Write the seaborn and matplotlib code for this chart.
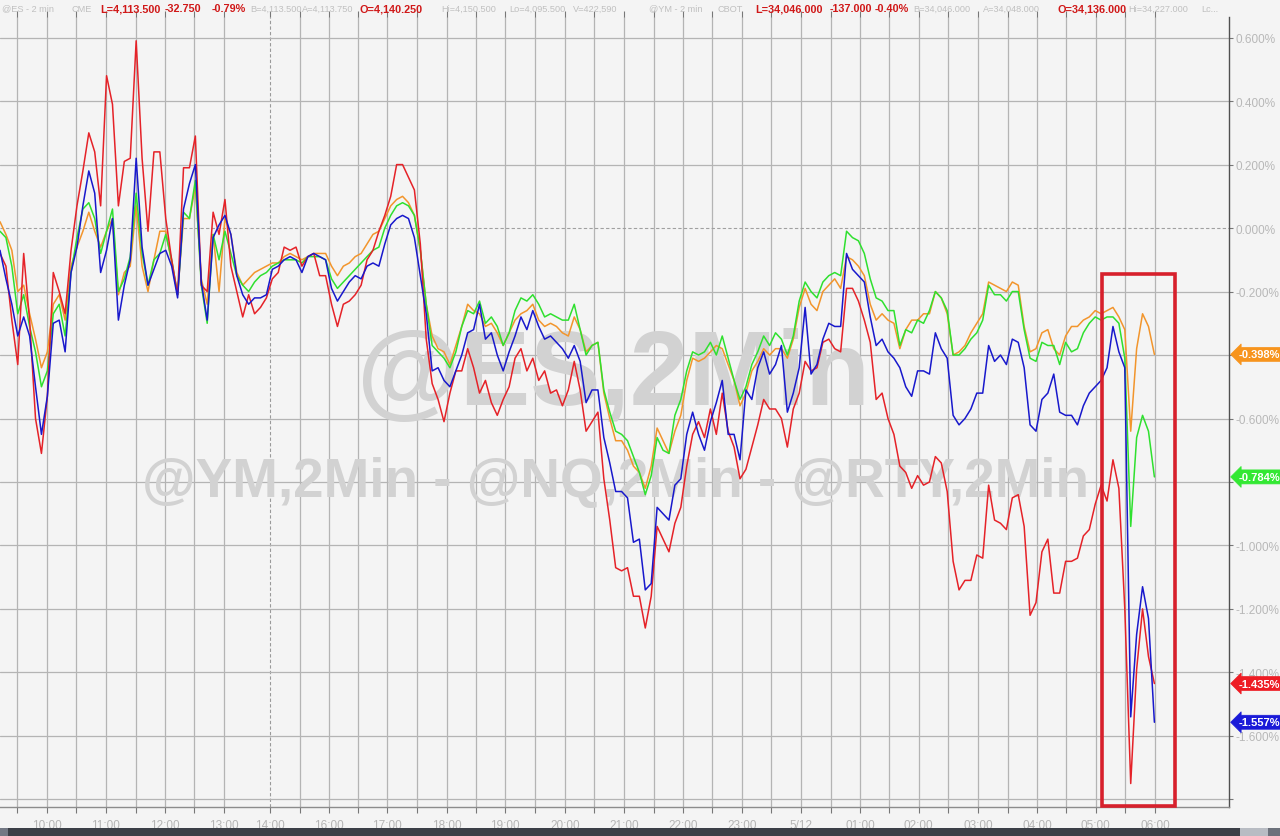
import numpy as np
import pandas as pd
import matplotlib
matplotlib.use("Agg")
import matplotlib.pyplot as plt
import matplotlib.transforms as mtransforms
from matplotlib.patches import Rectangle
import seaborn as sns

# % change of the four index futures, one value every 3 two-minute bars (6 min)
ym = [0.02, -0.02, -0.07, -0.20, -0.18, -0.27, -0.35, -0.44, -0.39, -0.24,
      -0.21, -0.29, -0.12, -0.06, -0.01, 0.05, -0.01, -0.06, -0.01, 0.03,
      -0.21, -0.14, -0.12, 0.07, -0.12, -0.20, -0.10, -0.01, -0.01, -0.11,
      -0.21, 0.03, 0.03, 0.13, -0.16, -0.24, -0.02, -0.20, 0.03, -0.02,
      -0.14, -0.18, -0.16, -0.14, -0.13, -0.12, -0.11, -0.11, -0.09, -0.08,
      -0.09, -0.10, -0.09, -0.08, -0.08, -0.08, -0.12, -0.15, -0.12, -0.11,
      -0.09, -0.08, -0.05, -0.02, -0.01, 0.03, 0.07, 0.09, 0.10, 0.08,
      0.04, -0.07, -0.24, -0.34, -0.38, -0.39, -0.43, -0.37, -0.31, -0.24,
      -0.26, -0.27, -0.31, -0.30, -0.33, -0.37, -0.33, -0.29, -0.27, -0.26,
      -0.24, -0.29, -0.31, -0.30, -0.31, -0.33, -0.34, -0.28, -0.32, -0.39,
      -0.37, -0.36, -0.52, -0.60, -0.67, -0.67, -0.70, -0.75, -0.77, -0.82,
      -0.75, -0.63, -0.67, -0.71, -0.64, -0.59, -0.48, -0.41, -0.42, -0.41,
      -0.39, -0.37, -0.38, -0.43, -0.48, -0.56, -0.52, -0.45, -0.42, -0.38,
      -0.40, -0.38, -0.38, -0.41, -0.35, -0.25, -0.19, -0.24, -0.26, -0.20,
      -0.18, -0.16, -0.19, -0.09, -0.10, -0.12, -0.15, -0.24, -0.29, -0.27,
      -0.29, -0.30, -0.38, -0.32, -0.29, -0.29, -0.27, -0.27, -0.20, -0.22,
      -0.27, -0.40, -0.39, -0.37, -0.33, -0.30, -0.27, -0.17, -0.18, -0.19,
      -0.20, -0.17, -0.18, -0.31, -0.39, -0.38, -0.33, -0.32, -0.38, -0.40,
      -0.34, -0.31, -0.31, -0.29, -0.28, -0.26, -0.27, -0.26, -0.25, -0.28,
      -0.32, -0.64, -0.38, -0.27, -0.31, -0.398]

es = [-0.01, -0.03, -0.12, -0.27, -0.21, -0.31, -0.39, -0.50, -0.45, -0.27,
      -0.24, -0.34, -0.14, -0.03, 0.06, 0.08, 0.03, -0.08, -0.01, 0.06,
      -0.20, -0.16, -0.09, 0.11, -0.08, -0.18, -0.10, -0.08, -0.02, -0.10,
      -0.21, 0.05, 0.03, 0.15, -0.18, -0.30, -0.02, -0.10, -0.01, -0.08,
      -0.15, -0.18, -0.20, -0.17, -0.15, -0.14, -0.12, -0.11, -0.10, -0.10,
      -0.10, -0.11, -0.09, -0.09, -0.09, -0.10, -0.16, -0.19, -0.17, -0.15,
      -0.13, -0.11, -0.09, -0.07, -0.06, 0.00, 0.04, 0.07, 0.08, 0.07,
      0.04, -0.07, -0.24, -0.37, -0.39, -0.41, -0.44, -0.39, -0.31, -0.26,
      -0.27, -0.23, -0.30, -0.28, -0.31, -0.37, -0.33, -0.26, -0.22, -0.23,
      -0.21, -0.24, -0.28, -0.27, -0.28, -0.29, -0.29, -0.24, -0.32, -0.40,
      -0.37, -0.36, -0.51, -0.58, -0.64, -0.65, -0.67, -0.72, -0.77, -0.84,
      -0.78, -0.66, -0.70, -0.71, -0.59, -0.54, -0.45, -0.39, -0.40, -0.39,
      -0.36, -0.40, -0.34, -0.41, -0.48, -0.54, -0.50, -0.43, -0.39, -0.34,
      -0.37, -0.33, -0.35, -0.40, -0.34, -0.23, -0.17, -0.20, -0.22, -0.17,
      -0.15, -0.14, -0.15, -0.01, -0.03, -0.04, -0.08, -0.16, -0.22, -0.23,
      -0.26, -0.26, -0.37, -0.32, -0.33, -0.29, -0.30, -0.26, -0.20, -0.22,
      -0.26, -0.40, -0.40, -0.38, -0.35, -0.33, -0.29, -0.18, -0.21, -0.21,
      -0.23, -0.20, -0.20, -0.32, -0.41, -0.42, -0.36, -0.37, -0.37, -0.43,
      -0.36, -0.39, -0.38, -0.33, -0.30, -0.28, -0.29, -0.28, -0.28, -0.30,
      -0.41, -0.94, -0.66, -0.59, -0.64, -0.784]

rty = [-0.08, -0.12, -0.29, -0.43, -0.08, -0.29, -0.60, -0.71, -0.53, -0.14,
       -0.20, -0.27, -0.07, 0.07, 0.18, 0.30, 0.24, 0.07, 0.48, 0.39,
       0.07, 0.21, 0.22, 0.59, 0.22, -0.01, 0.24, 0.24, 0.03, -0.10,
       -0.21, 0.19, 0.19, 0.29, -0.18, -0.20, 0.05, -0.02, 0.09, -0.12,
       -0.20, -0.28, -0.21, -0.27, -0.25, -0.22, -0.16, -0.14, -0.06, -0.07,
       -0.06, -0.12, -0.09, -0.08, -0.15, -0.15, -0.24, -0.31, -0.24, -0.23,
       -0.21, -0.18, -0.10, -0.07, -0.01, 0.04, 0.10, 0.20, 0.20, 0.16,
       0.12, -0.05, -0.35, -0.49, -0.54, -0.61, -0.52, -0.45, -0.45, -0.38,
       -0.44, -0.52, -0.48, -0.55, -0.59, -0.54, -0.50, -0.41, -0.38, -0.45,
       -0.41, -0.48, -0.45, -0.52, -0.51, -0.56, -0.51, -0.42, -0.51, -0.64,
       -0.61, -0.58, -0.79, -0.92, -1.07, -1.08, -1.07, -1.16, -1.16, -1.26,
       -1.16, -0.94, -0.98, -1.02, -0.93, -0.88, -0.75, -0.65, -0.61, -0.66,
       -0.57, -0.65, -0.52, -0.64, -0.69, -0.79, -0.76, -0.69, -0.62, -0.54,
       -0.57, -0.57, -0.60, -0.69, -0.57, -0.52, -0.42, -0.45, -0.44, -0.36,
       -0.35, -0.38, -0.39, -0.19, -0.19, -0.23, -0.29, -0.36, -0.54, -0.52,
       -0.60, -0.65, -0.75, -0.77, -0.82, -0.78, -0.81, -0.80, -0.72, -0.74,
       -0.83, -1.05, -1.14, -1.11, -1.11, -1.03, -1.04, -0.81, -0.92, -0.93,
       -0.95, -0.85, -0.84, -0.94, -1.22, -1.18, -1.02, -0.98, -1.15, -1.15,
       -1.05, -1.05, -1.04, -0.97, -0.95, -0.87, -0.81, -0.86, -0.73, -0.82,
       -1.20, -1.75, -1.39, -1.20, -1.35, -1.435]

nq = [-0.07, -0.16, -0.24, -0.34, -0.28, -0.34, -0.50, -0.65, -0.53, -0.30,
      -0.29, -0.39, -0.14, -0.06, 0.07, 0.18, 0.11, -0.14, -0.07, 0.03,
      -0.29, -0.18, -0.10, 0.22, -0.06, -0.18, -0.13, -0.08, -0.07, -0.12,
      -0.22, 0.06, 0.14, 0.20, -0.17, -0.29, -0.03, 0.01, 0.04, -0.02,
      -0.15, -0.21, -0.24, -0.22, -0.22, -0.21, -0.13, -0.12, -0.10, -0.09,
      -0.10, -0.14, -0.09, -0.08, -0.09, -0.10, -0.19, -0.23, -0.20, -0.17,
      -0.15, -0.16, -0.12, -0.11, -0.12, -0.05, 0.01, 0.03, 0.04, 0.03,
      -0.03, -0.15, -0.27, -0.45, -0.44, -0.48, -0.50, -0.45, -0.40, -0.33,
      -0.32, -0.24, -0.35, -0.33, -0.40, -0.45, -0.39, -0.34, -0.28, -0.32,
      -0.26, -0.31, -0.35, -0.34, -0.36, -0.38, -0.41, -0.37, -0.42, -0.55,
      -0.51, -0.51, -0.66, -0.74, -0.83, -0.83, -0.85, -0.99, -0.98, -1.14,
      -1.12, -0.88, -0.90, -0.92, -0.81, -0.79, -0.65, -0.58, -0.65, -0.70,
      -0.61, -0.55, -0.48, -0.65, -0.65, -0.73, -0.51, -0.54, -0.44, -0.39,
      -0.46, -0.43, -0.37, -0.58, -0.52, -0.44, -0.25, -0.46, -0.43, -0.35,
      -0.30, -0.31, -0.31, -0.08, -0.13, -0.15, -0.17, -0.28, -0.37, -0.35,
      -0.39, -0.41, -0.44, -0.50, -0.53, -0.45, -0.45, -0.46, -0.33, -0.38,
      -0.41, -0.59, -0.62, -0.60, -0.57, -0.52, -0.52, -0.37, -0.42, -0.40,
      -0.43, -0.35, -0.36, -0.44, -0.62, -0.64, -0.54, -0.52, -0.46, -0.58,
      -0.59, -0.59, -0.62, -0.56, -0.52, -0.50, -0.48, -0.44, -0.31, -0.39,
      -0.44, -1.54, -1.28, -1.13, -1.23, -1.557]

series = ["YM", "ES", "RTY", "NQ"]
colors = {"YM": "#f2952c", "ES": "#2fe02f", "RTY": "#e52228", "NQ": "#1818cc"}
tag_colors = {"YM": "#f7941d", "ES": "#33e833", "RTY": "#ee1c24", "NQ": "#1a1ad8"}

hour_labels = ["10:00", "11:00", "12:00", "13:00", "14:00", "16:00", "17:00",
               "18:00", "19:00", "20:00", "21:00", "22:00", "23:00", "5/12",
               "01:00", "02:00", "03:00", "04:00", "05:00", "06:00"]
hour_pos = [7.9, 17.9, 27.9, 37.8, 45.6, 55.6, 65.4, 75.5, 85.3, 95.4, 105.4,
            115.4, 125.3, 135.3, 145.3, 155.2, 165.2, 175.2, 185.1, 195.1]
session_break = 45.6
y_ticks = [0.6, 0.4, 0.2, 0.0, -0.2, -0.4, -0.6, -0.8, -1.0, -1.2, -1.4, -1.6, -1.8]

df = pd.DataFrame({"bar": np.arange(len(ym)), "YM": ym, "ES": es, "RTY": rty, "NQ": nq})
long = df.melt(id_vars="bar", var_name="sym", value_name="pct")

sns.set_style("white")
plt.rcParams["font.family"] = ["Liberation Sans", "DejaVu Sans"]

bg = "#f4f4f4"
fig = plt.figure(figsize=(12.8, 8.37), dpi=100, facecolor=bg)
ax = fig.add_axes([0, 29 / 837, 1229 / 1280, 790 / 837])
ax.set_facecolor(bg)

# half hour grid positions (no line inside the session break)
grid_pos = [hour_pos[0] - 5.0]
for a, b in zip(hour_pos[:-1], hour_pos[1:]):
    grid_pos.append(a)
    if b - a > 9:
        grid_pos.append((a + b) / 2)
grid_pos.append(hour_pos[-1])

gcol = "#b4b4b4"
for g in grid_pos:
    if abs(g - session_break) < 0.01:
        ax.axvline(g, color="#9a9a9a", lw=0.8, ls=(0, (3, 2)), zorder=0.5)
    else:
        ax.axvline(g, color=gcol, lw=0.9, zorder=0.5)
for v in y_ticks:
    if v == 0.0:
        ax.axhline(v, color="#a0a0a0", lw=0.8, ls=(0, (3, 2)), zorder=0.5)
    else:
        ax.axhline(v, color=gcol, lw=0.9, zorder=0.5)

# watermarks
ax.text(613 / 1280, 1 - 378 / 837, "@ES,2Min", transform=fig.transFigure,
        ha="center", va="center", fontsize=76, fontweight="bold",
        color="#d2d2d2", zorder=1)
ax.text(615 / 1280, 1 - 483 / 837, "@YM,2Min - @NQ,2Min - @RTY,2Min",
        transform=fig.transFigure, ha="center", va="center", fontsize=39.5,
        fontweight="bold", color="#d2d2d2", zorder=1)

sns.lineplot(data=long, x="bar", y="pct", hue="sym", hue_order=series,
             palette=colors, linewidth=1.1, legend=False, ax=ax, zorder=2)

ax.set_xlim(0, 1229 / 5.92)
ax.set_ylim(-1.824, 0.665)
ax.set_xlabel("")
ax.set_ylabel("")

ax.set_xticks(grid_pos)
ax.set_xticklabels([hour_labels[hour_pos.index(g)] if g in hour_pos else "" for g in grid_pos])
ax.tick_params(axis="x", which="both", bottom=True, top=True, direction="out",
               length=4, width=0.8, color="#777777", labelsize=8.5,
               labelcolor="#b4b4b4", pad=5)

# price axis labels; the ones covered by last-value tags are left blank
last_vals = [df[s].iloc[-1] for s in series]
ylabels = []
for v in y_ticks:
    hidden = v == y_ticks[-1] or any(abs(v - lv) < 0.03 for lv in last_vals)
    ylabels.append("" if hidden else "%.3f%%" % v)
ax.yaxis.tick_right()
ax.set_yticks(y_ticks)
ax.set_yticklabels(ylabels)
ax.tick_params(axis="y", right=True, left=False, direction="out", length=3,
               width=0.8, color="#777777", labelsize=8.5, labelcolor="#b8b8b8", pad=2)

for s in ["left", "top"]:
    ax.spines[s].set_visible(False)
ax.spines["right"].set_color("#505050")
ax.spines["right"].set_linewidth(1.0)
ax.spines["bottom"].set_color("#8c8c8c")
ax.spines["bottom"].set_linewidth(1.0)

# last value tags on the price axis
blend = mtransforms.blended_transform_factory(ax.transAxes, ax.transData)
for sym in series:
    last = df[sym].iloc[-1]
    ax.text(1.0075, last, "%.3f%%" % last, transform=blend, ha="left", va="center",
            fontsize=8, fontweight="bold", color="white", clip_on=False, zorder=5,
            bbox=dict(boxstyle="larrow,pad=0.18", fc=tag_colors[sym],
                      ec=tag_colors[sym], lw=0.5))

# highlighted last hour
ax.add_patch(Rectangle((186.1, -1.82), 12.4, 1.675, fill=False, ec="#d7202c",
                       lw=2.6, clip_on=False, zorder=4))

# header quote line
grey = "#c0c0c0"
red = "#d01818"
header = [
    (2, "@ES - 2 min", grey, "normal"), (71, "CME", grey, "normal"),
    (100, "L=4,113.500", red, "bold"), (165, "-32.750", red, "bold"),
    (212, "-0.79%", red, "bold"), (250, "B=4,113.500", grey, "normal"),
    (302, "A=4,113.750", grey, "normal"), (360, "O=4,140.250", red, "bold"),
    (441, "Hi=4,150.500", grey, "normal"), (509, "Lo=4,095.500", grey, "normal"),
    (573, "V=422,590", grey, "normal"), (649, "@YM - 2 min", grey, "normal"),
    (718, "CBOT", grey, "normal"), (755, "L=34,046.000", red, "bold"),
    (830, "-137.000", red, "bold"), (875, "-0.40%", red, "bold"),
    (913, "B=34,046.000", grey, "normal"), (983, "A=34,048.000", grey, "normal"),
    (1058, "O=34,136.000", red, "bold"), (1128, "Hi=34,227.000", grey, "normal"),
    (1201, "Lc...", grey, "normal"),
]
for xpx, txt, c, w in header:
    fig.text(xpx / 1280, 1 - 9 / 837, txt, ha="left", va="center",
             fontsize=7.8 if w == "bold" else 6.6, color=c, fontweight=w)

# bottom status bar
fig.patches.append(Rectangle((0, 0), 1240 / 1280, 8 / 837, transform=fig.transFigure,
                             fc="#3b3f47", ec="none", figure=fig))
fig.patches.append(Rectangle((0, 0), 8 / 1280, 8 / 837, transform=fig.transFigure,
                             fc="#737884", ec="none", figure=fig))
fig.patches.append(Rectangle((1240 / 1280, 0), 28 / 1280, 8 / 837, transform=fig.transFigure,
                             fc="#b8bcc3", ec="none", figure=fig))
fig.patches.append(Rectangle((1268 / 1280, 0), 12 / 1280, 8 / 837, transform=fig.transFigure,
                             fc="#6c717b", ec="none", figure=fig))

fig.savefig("out.png", dpi=100, facecolor=bg)
